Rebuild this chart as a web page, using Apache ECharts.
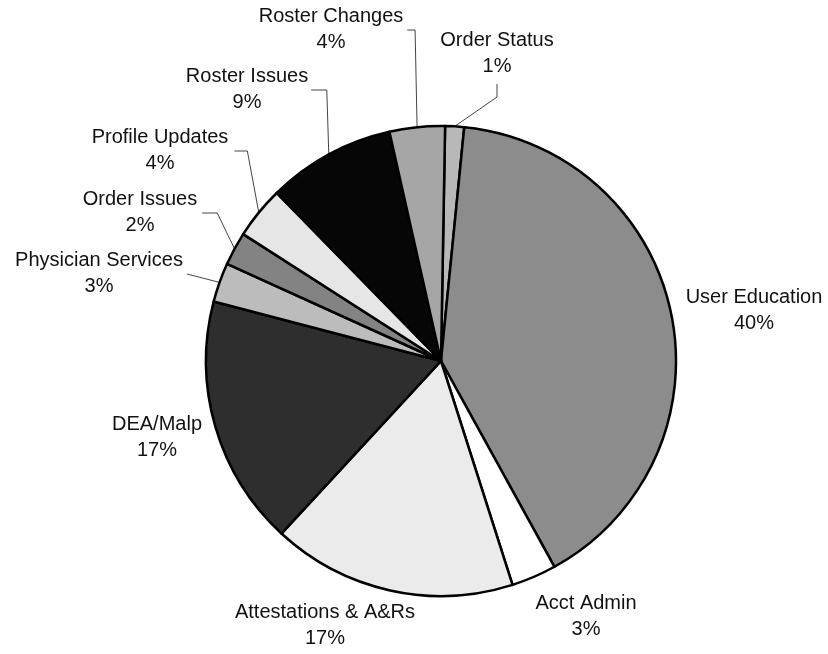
<!DOCTYPE html>
<html>
<head>
<meta charset="utf-8">
<script src="https://cdn.jsdelivr.net/npm/echarts@6.0.0/dist/echarts.min.js"></script>
<style>
  html, body { margin: 0; padding: 0; background: #fff; }
  #main { width: 828px; height: 654px; }
</style>
</head>
<body>
<div id="main"></div>
<script>
// slices, clockwise from 12 o'clock
const categories = ['Order Status', 'User Education', 'Acct Admin', 'Attestations & A&Rs', 'DEA/Malp',
  'Physician Services', 'Order Issues', 'Profile Updates', 'Roster Issues', 'Roster Changes'];
const shares = [1.3, 40.4, 3.1, 16.8, 17.2, 2.7, 2.3, 3.6, 8.8, 3.8];

// grey fills, same order
const fills = ['#b8b8b8', '#8c8c8c', '#ffffff', '#ebebeb', '#2e2e2e',
  '#bcbcbc', '#838383', '#e6e6e6', '#060606', '#a6a6a6'];

const CX = 441, CY = 361, R = 235;
const START = 1; // degrees clockwise from top

// where each label block sits and how its leader line runs
const labelSpots = {
  'Order Status':        { x: 497, y: 53,  line: 'below' },
  'User Education':      { x: 754, y: 310 },
  'Acct Admin':          { x: 586, y: 616 },
  'Attestations & A&Rs': { x: 325, y: 625 },
  'DEA/Malp':            { x: 157, y: 437 },
  'Physician Services':  { x: 99,  y: 273, line: 'side', gap: 4, elbow: 0 },
  'Order Issues':        { x: 140, y: 212, line: 'side', gap: 5, elbow: 15 },
  'Profile Updates':     { x: 160, y: 150, line: 'side', gap: 6, elbow: 13 },
  'Roster Issues':       { x: 247, y: 89,  line: 'up',   gap: 3 },
  'Roster Changes':      { x: 331, y: 29,  line: 'up',   gap: 4 }
};

const total = shares.reduce((a, b) => a + b, 0);

// point on the rim at the middle of slice i
function rimPoint(i) {
  let before = 0;
  for (let k = 0; k < i; k++) before += shares[k];
  const deg = START + (before + shares[i] / 2) / total * 360;
  const rad = deg * Math.PI / 180;
  return [CX + R * Math.sin(rad), CY - R * Math.cos(rad)];
}

const chart = echarts.init(document.getElementById('main'), null, { renderer: 'canvas' });

const pieData = categories.map((name, i) => ({
  name: name,
  value: shares[i],
  itemStyle: { color: fills[i] },
  labelLine: { show: !!labelSpots[name].line }
}));

const option = {
  animation: false,
  backgroundColor: '#fff',
  series: [{
    type: 'pie',
    center: [CX, CY],
    radius: R,
    startAngle: 90 - START,
    clockwise: true,
    percentPrecision: 0,
    avoidLabelOverlap: false,
    data: pieData,
    itemStyle: {
      borderColor: '#000',
      borderWidth: 2.5
    },
    label: {
      show: true,
      position: 'outside',
      formatter: '{b}\n{d}%',
      fontFamily: 'Liberation Sans, Arial, sans-serif',
      fontSize: 20,
      lineHeight: 26,
      color: '#111',
      align: 'center'
    },
    labelLine: {
      show: true,
      length: 10,
      length2: 10,
      lineStyle: { color: '#444', width: 1 }
    },
    emphasis: { disabled: true },
    labelLayout: function (params) {
      const name = categories[params.dataIndex];
      const spot = labelSpots[name];
      const res = { x: spot.x, y: spot.y, align: 'center', verticalAlign: 'middle' };
      const w = params.labelRect.width, h = params.labelRect.height;
      const rim = rimPoint(params.dataIndex);
      if (spot.line === 'side') {
        const end = [spot.x + w / 2 + spot.gap, spot.y + 1];
        const elbow = [end[0] + spot.elbow, end[1]];
        res.labelLinePoints = [rim, elbow, end];
      } else if (spot.line === 'up') {
        const end = [spot.x + w / 2 + spot.gap, spot.y + 1];
        const elbow = [rim[0] - 2, end[1]];
        res.labelLinePoints = [rim, elbow, end];
      } else if (spot.line === 'below') {
        const end = [spot.x, spot.y + h / 2 + 5];
        const elbow = [spot.x, spot.y + h / 2 + 18];
        res.labelLinePoints = [rim, elbow, end];
      }
      return res;
    }
  }]
};

chart.setOption(option);
</script>
</body>
</html>
